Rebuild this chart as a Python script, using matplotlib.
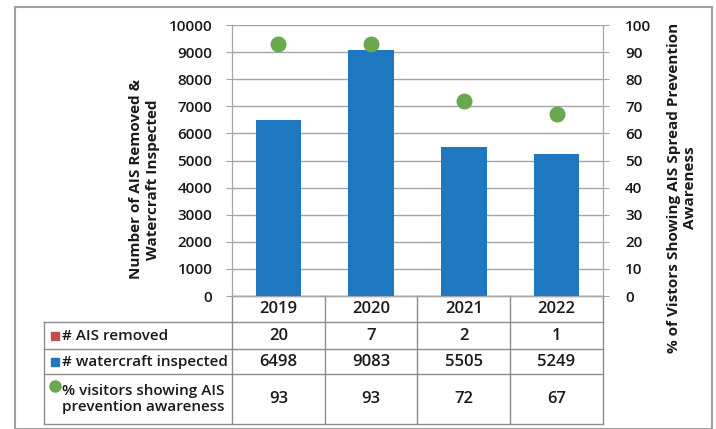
import numpy as np
import matplotlib.pyplot as plt
from matplotlib.patches import Rectangle
from matplotlib.lines import Line2D

years = ["2019", "2020", "2021", "2022"]
ais_removed = [20, 7, 2, 1]
watercraft = [6498, 9083, 5505, 5249]
awareness = [93, 93, 72, 67]

row_labels = ["# AIS removed", "# watercraft inspected", "% visitors showing AIS\nprevention awareness"]

blue = "#1f77c0"
red = "#c0504d"
green = "#6aa84f"
grid_c = "#a6a6a6"
txt = "#1a1a1a"

plt.rcParams['font.family'] = ['Open Sans', 'DejaVu Sans']

fig = plt.figure(figsize=(7.16, 4.29), dpi=100)
ax = fig.add_axes([0.324, 0.31, 0.518, 0.6317])
ax2 = ax.twinx()

x = np.arange(len(years))
ax.bar(x, ais_removed, width=0.49, color=red, zorder=3)
ax.bar(x, watercraft, width=0.49, color=blue, zorder=3)
ax2.scatter(x, awareness, s=110, color=green, zorder=4)

ax.set_xlim(-0.5, 3.5)
ax.set_ylim(0, 10000)
ax.set_yticks(np.arange(0, 10001, 1000))
ax2.set_ylim(0, 100)
ax2.set_yticks(np.arange(0, 101, 10))
ax.set_xticks([])
ax.yaxis.grid(True, color=grid_c, linewidth=1, zorder=0)
ax.set_axisbelow(True)

for a in (ax, ax2):
    a.tick_params(axis='y', labelsize=11, length=4, color=grid_c, labelcolor=txt)
    for s in a.spines.values():
        s.set_color(grid_c)
    a.spines['top'].set_visible(False)
    for t in a.get_yticklabels():
        t.set_fontweight('semibold')
ax.tick_params(axis='y', pad=10)
ax2.tick_params(axis='y', pad=12)

ax.set_ylabel("Number of AIS Removed &\nWatercraft Inspected", fontsize=11,
              fontweight='bold', linespacing=1.2, color=txt)
ax.yaxis.set_label_coords(-0.195, 0.43)
ax2.set_ylabel("% of Vistors Showing AIS Spread Prevention\nAwareness", fontsize=11,
               fontweight='bold', linespacing=1.2, color=txt)
ax2.yaxis.set_label_coords(1.172, 0.40)

# data table under the chart
tr = ax.transAxes
bounds = [0, -0.096, -0.196, -0.288, -0.472]
left = -0.507
col_edges = [0, 0.25, 0.5, 0.75, 1.0]
lc = "#8c8c8c"
for i, yb in enumerate(bounds):
    x0 = 0 if i == 0 else left
    ax.add_line(Line2D([x0, 1], [yb, yb], transform=tr, color=lc, lw=1, clip_on=False))
for xe in col_edges:
    ax.add_line(Line2D([xe, xe], [0, bounds[-1]], transform=tr, color=lc, lw=1, clip_on=False))
ax.add_line(Line2D([left, left], [bounds[1], bounds[-1]], transform=tr, color=lc, lw=1, clip_on=False))

rows = [years, [str(v) for v in ais_removed], [str(v) for v in watercraft], [str(v) for v in awareness]]
for r, vals in enumerate(rows):
    yc = (bounds[r] + bounds[r + 1]) / 2
    for c, v in enumerate(vals):
        ax.text((col_edges[c] + col_edges[c + 1]) / 2, yc, v, transform=tr,
                ha='center', va='center', fontsize=12, fontweight='semibold', color=txt)

markers = [("s", red), ("s", blue), ("o", green)]
for r, lab in enumerate(row_labels):
    yc = (bounds[r + 1] + bounds[r + 2]) / 2
    ax.text(left + 0.05, yc, lab, transform=tr, ha='left', va='center',
            fontsize=11, fontweight='semibold', linespacing=1.15, color=txt)
    ym = yc if r < 2 else yc + 0.047
    m, col = markers[r]
    ax.plot([left + 0.03], [ym], transform=tr, marker=m, color=col,
            markersize=6 if m == "s" else 8, clip_on=False, linestyle='none')

# outer chart border
fig.patches.append(Rectangle((15 / 716, 0.0), 697 / 716, 1 - 7 / 429,
                             transform=fig.transFigure, fill=False,
                             edgecolor="#a0a0a0", linewidth=1.5))

fig.savefig("out.png", dpi=100)
